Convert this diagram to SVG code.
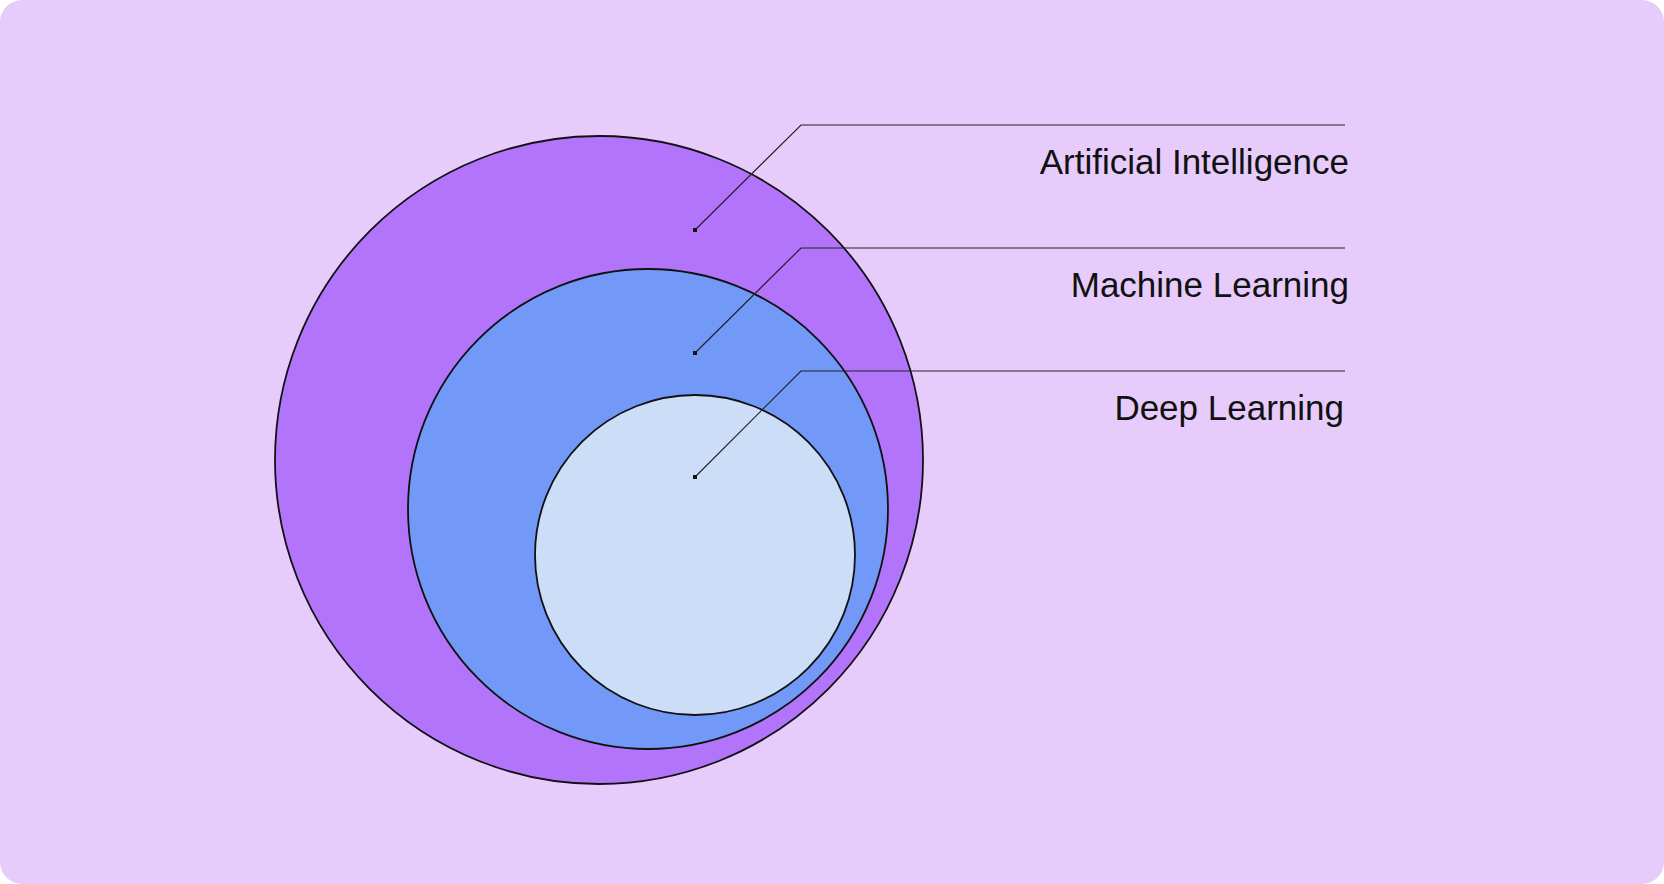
<svg xmlns="http://www.w3.org/2000/svg" width="1664" height="884" viewBox="0 0 1664 884">
<style>
.c{stroke:#111;stroke-width:1.8}
.l{fill:none;stroke:#222;stroke-width:1.2}
.t{font-family:"Liberation Sans",Arial,sans-serif;font-size:35px;fill:#111;text-anchor:end}
</style>
<rect x="0" y="0" width="1664" height="884" rx="22" fill="#E6CBFB"/>
<g id="ai"><circle class="c" cx="599" cy="460" r="324" fill="#B174FA"/></g>
<g id="ml"><circle class="c" cx="648" cy="509" r="240" fill="#7299F8"/></g>
<g id="dl"><circle class="c" cx="695" cy="555" r="160" fill="#CCDDF8"/></g>
<g id="connectors">
<polyline class="l" points="695,230 801,125 1345,125"/>
<polyline class="l" points="695,353 801,248 1345,248"/>
<polyline class="l" points="695,477 801,371 1345,371"/>
<rect x="693" y="228" width="4" height="4" fill="#111"/>
<rect x="693" y="351" width="4" height="4" fill="#111"/>
<rect x="693" y="475" width="4" height="4" fill="#111"/>
</g>
<g id="labels">
<text class="t" x="1349" y="174">Artificial Intelligence</text>
<text class="t" x="1349" y="297">Machine Learning</text>
<text class="t" x="1344" y="420">Deep Learning</text>
</g>
</svg>
